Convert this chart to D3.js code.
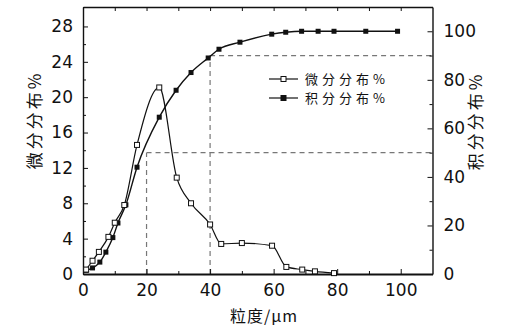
<!DOCTYPE html>
<html><head><meta charset="utf-8">
<script src="https://cdn.jsdelivr.net/npm/d3@7"></script>
<style>body{margin:0;background:#fff}svg{display:block}</style>
</head><body>
<script>
// Data
const diffX = [1, 3, 5, 8, 10, 13, 17, 24, 29.5, 34, 40, 43.5, 50, 59.5, 64, 69, 73, 79];
const diffY = [0.5, 1.5, 2.5, 4.2, 5.8, 7.8, 14.6, 21.1, 10.9, 8, 5.6, 3.4, 3.5, 3.2, 0.8, 0.5, 0.3, 0.1];
const cumX = [1, 3, 5.3, 7.2, 9.4, 11, 13.5, 17, 24, 29.3, 34, 39.4, 42.8, 49.4, 59.4, 63.8, 68.8, 74, 79, 89, 99];
const cumY = [1.5, 2.5, 4.9, 9, 15, 21, 28.5, 44, 64.6, 75.7, 83, 89, 92.6, 95.5, 98.8, 99.6, 100, 100, 100, 100, 100];
const xTicks = [0, 20, 40, 60, 80, 100];
const leftTicks = [0, 4, 8, 12, 16, 20, 24, 28];
const rightTicks = [0, 20, 40, 60, 80, 100];
const legendLabels = ["微分分布%", "积分分布%"];
const xLabel = "粒度/μm", leftLabel = "微分分布%", rightLabel = "积分分布%";

const W = 512, H = 335;
const m = {l: 83, r: 432.5, t: 7, b: 274};
const svg = d3.select("body").append("svg").attr("width", W).attr("height", H);
const x = d3.scaleLinear().domain([0, 110]).range([m.l, m.r]);
const yL = d3.scaleLinear().domain([0, 30.2]).range([m.b, m.t]);
const yR = d3.scaleLinear().domain([0, 110]).range([m.b, m.t]);
const font = "'DejaVu Sans', sans-serif";
const cjk = "'Noto Sans CJK SC', sans-serif";

// dashed guides
const g = svg.append("g").attr("stroke", "#777").attr("stroke-width", 1.2).attr("stroke-dasharray", "5,4").attr("fill", "none");
g.append("line").attr("x1", x(20)).attr("x2", m.r).attr("y1", yR(50)).attr("y2", yR(50));
g.append("line").attr("x1", x(20)).attr("x2", x(20)).attr("y1", m.b).attr("y2", yR(50));
g.append("line").attr("x1", x(40)).attr("x2", m.r).attr("y1", yR(90)).attr("y2", yR(90));
g.append("line").attr("x1", x(40)).attr("x2", x(40)).attr("y1", m.b).attr("y2", yR(90));

// axes
function styleAxis(sel) {
  sel.selectAll("path").attr("stroke", "#111").attr("stroke-width", 1.4);
  sel.selectAll("line").attr("stroke", "#111").attr("stroke-width", 1);
  sel.selectAll("text").attr("font-family", font).attr("font-size", 17).attr("fill", "#111");
}
const minorX = d3.range(10, 110, 20);
const minorL = d3.range(2, 30, 4);
const minorR = d3.range(10, 110, 20);

const ax = svg.append("g").attr("transform", `translate(0,${m.b})`)
  .call(d3.axisBottom(x).tickValues(xTicks).tickSizeInner(-5).tickSizeOuter(0).tickPadding(10).tickFormat(d3.format("d")));
styleAxis(ax);
ax.select("path").attr("stroke-width", 2.2);
svg.append("g").attr("transform", `translate(0,${m.b})`)
  .call(d3.axisBottom(x).tickValues(minorX).tickSizeInner(-3).tickSizeOuter(0).tickFormat(""))
  .call(s => { s.select("path").remove(); s.selectAll("line").attr("stroke", "#111"); });
const axT = svg.append("g").attr("transform", `translate(0,${m.t})`)
  .call(d3.axisTop(x).tickValues(xTicks.concat(minorX)).tickSizeInner(-4).tickSizeOuter(0).tickFormat(""));
styleAxis(axT);

const al = svg.append("g").attr("transform", `translate(${m.l},0)`)
  .call(d3.axisLeft(yL).tickValues(leftTicks).tickSizeInner(-5).tickSizeOuter(0).tickPadding(10));
styleAxis(al);
svg.append("g").attr("transform", `translate(${m.l},0)`)
  .call(d3.axisLeft(yL).tickValues(minorL).tickSizeInner(-3).tickSizeOuter(0).tickFormat(""))
  .call(s => { s.select("path").remove(); s.selectAll("line").attr("stroke", "#111"); });

const ar = svg.append("g").attr("transform", `translate(${m.r},0)`)
  .call(d3.axisRight(yR).tickValues(rightTicks).tickSizeInner(-5).tickSizeOuter(0).tickPadding(11));
styleAxis(ar);
svg.append("g").attr("transform", `translate(${m.r},0)`)
  .call(d3.axisRight(yR).tickValues(minorR).tickSizeInner(-3).tickSizeOuter(0).tickFormat(""))
  .call(s => { s.select("path").remove(); s.selectAll("line").attr("stroke", "#111"); });

// lines
const lineL = d3.line().x((d, i) => x(diffX[i])).y(d => yL(d)).curve(d3.curveMonotoneX);
const lineR = d3.line().x((d, i) => x(cumX[i])).y(d => yR(d)).curve(d3.curveMonotoneX);
svg.append("path").attr("d", lineR(cumY)).attr("fill", "none").attr("stroke", "#111").attr("stroke-width", 1.4);
svg.append("path").attr("d", lineL(diffY)).attr("fill", "none").attr("stroke", "#111").attr("stroke-width", 1.2);

const s = 5;
svg.append("g").selectAll("rect").data(cumY).join("rect")
  .attr("x", (d, i) => x(cumX[i]) - s / 2).attr("y", d => yR(d) - s / 2)
  .attr("width", s).attr("height", s).attr("fill", "#111");
svg.append("g").selectAll("rect").data(diffY).join("rect")
  .attr("x", (d, i) => x(diffX[i]) - s / 2).attr("y", d => yL(d) - s / 2)
  .attr("width", s).attr("height", s).attr("fill", "#fff").attr("stroke", "#111").attr("stroke-width", 1);

// legend
const lg = svg.append("g");
legendLabels.forEach((t, i) => {
  const y0 = 79 + i * 19;
  lg.append("line").attr("x1", 269).attr("x2", 298).attr("y1", y0).attr("y2", y0).attr("stroke", "#111").attr("stroke-width", 1.2);
  lg.append("rect").attr("x", 283.5 - 2.5).attr("y", y0 - 2.5).attr("width", 5).attr("height", 5)
    .attr("fill", i === 0 ? "#fff" : "#111").attr("stroke", "#111").attr("stroke-width", 1);
  lg.append("text").attr("x", 305).attr("y", y0 + 5).text(t)
    .attr("font-family", cjk).attr("font-size", 13).attr("letter-spacing", 4).attr("fill", "#111");
});

// axis labels
svg.append("text").attr("x", 264).attr("y", 322).attr("text-anchor", "middle").text(xLabel)
  .attr("font-family", cjk).attr("font-size", 16).attr("letter-spacing", 1).attr("fill", "#111");
svg.append("text").attr("transform", "translate(41,120) rotate(-90)").attr("text-anchor", "middle").text(leftLabel)
  .attr("font-family", cjk).attr("font-size", 17).attr("letter-spacing", 3).attr("fill", "#111");
svg.append("text").attr("transform", "translate(482,121) rotate(-90)").attr("text-anchor", "middle").text(rightLabel)
  .attr("font-family", cjk).attr("font-size", 17).attr("letter-spacing", 3).attr("fill", "#111");
</script>
</body></html>
